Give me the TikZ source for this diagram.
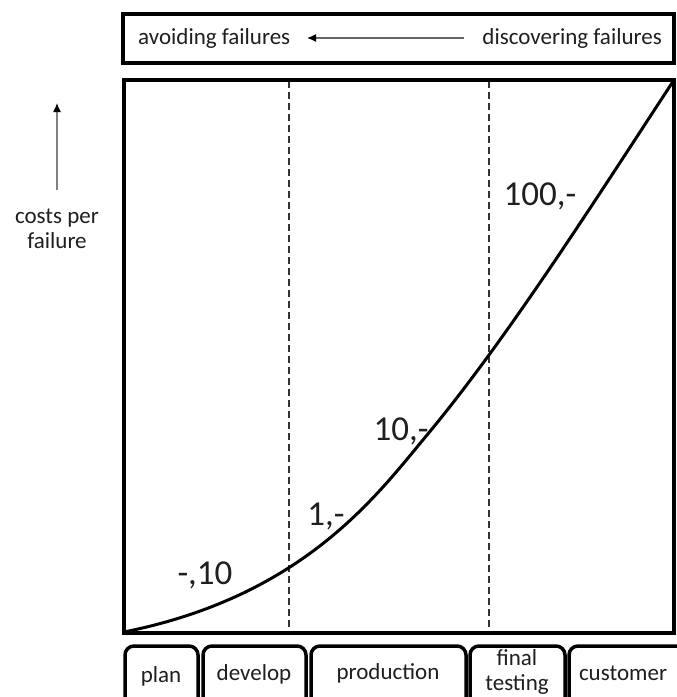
\documentclass[tikz,border=0pt]{standalone}
\usepackage{fontspec}
\setmainfont{Carlito}
\usetikzlibrary{arrows.meta}
\begin{document}
\begin{tikzpicture}[x=1pt,y=-1pt,
  small/.style={font=\fontsize{23}{25}\selectfont, text=black!88, inner sep=0pt},
  big/.style={font=\fontsize{35}{38}\selectfont, text=black!88, inner sep=0pt},
  frame/.style={draw=black, line width=4.5pt},
  phase/.style={draw=black, line width=3.5pt, rounded corners=9pt},
  guide/.style={draw=black!80, line width=1.8pt, dash pattern=on 7pt off 4pt},
  pointer/.style={draw=black!60, line width=1.4pt, -{Latex[length=9pt,width=8pt,color=black]}}
]
\useasboundingbox (0,0) rectangle (677,697);
\clip (0,0) rectangle (677,697);
\fill[white] (0,0) rectangle (677,697);

% top box
\draw[frame, line width=4pt] (123,14) rectangle (674,63);
\node[small, anchor=west] (avoid) at (138,38) {avoiding failures};
\node[small, anchor=east] (disc) at (662,38) {discovering failures};
\coordinate (arrtail) at (464,38);
\coordinate (arrhead) at (307,38);
\draw[pointer] (arrtail) -- (arrhead);

% y axis label
\coordinate (ytail) at (57,190);
\coordinate (yhead) at (57,103);
\draw[pointer, draw=black!50] (ytail) -- (yhead);
\node[small, align=center] (costs) at (57,229) {costs per\\failure};

% main box
\coordinate (origin) at (124,632);
\coordinate (mid) at (427,435);
\coordinate (topright) at (674,80);
\draw[guide] (289,81) -- (289,632);
\draw[guide] (489,81) -- (489,632);
\draw[frame] (124,80) rectangle (674,633);
\draw[line width=3pt, line cap=round] (origin) .. controls (304,596) and (377,495) .. (mid)
  .. controls (507,339) and (594,202) .. (topright);

% curve labels
\node[big] (l1) at (205,575) {-,10};
\node[big] (l2) at (326,516) {1,-};
\node[big] (l3) at (401,431) {10,-};
\node[big] (l4) at (540,196) {100,-};

% phase boxes
\draw[phase] (125,712) -- (125,646) -- (198,646) -- (198,712);
\draw[phase] (203,712) -- (203,646) -- (306,646) -- (306,712);
\draw[phase] (311,712) -- (311,646) -- (466,646) -- (466,712);
\draw[phase] (470,712) -- (470,646) -- (565,646) -- (565,712);
\draw[phase] (569,712) -- (569,646) -- (695,646) -- (695,712);
\node[small] (plan) at (161,676) {plan};
\node[small] (develop) at (254,674) {develop};
\node[small] (production) at (388,673) {production};
\node[small, align=center] (final) at (517,672) {final\\testing};
\node[small] (customer) at (623,673) {customer};
\end{tikzpicture}
\end{document}
